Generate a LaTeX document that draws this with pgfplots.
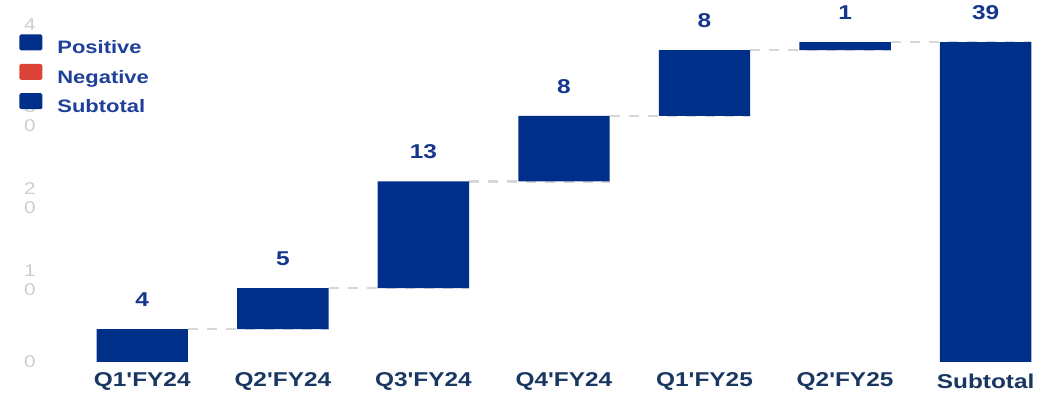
\documentclass[border=0pt]{standalone}
\usepackage{pgfplots}
\pgfplotsset{compat=1.18}
\usepackage{pgfplotstable}
\usepackage{fontspec}
\setmainfont{Liberation Sans}
\newfontfamily\wf{Liberation Sans}[FakeStretch=1.22]
\definecolor{barblue}{RGB}{0,47,138}
\definecolor{negred}{RGB}{221,68,56}
\definecolor{legblue}{RGB}{30,64,155}
\definecolor{lblblue}{RGB}{22,54,140}
\definecolor{tickblue}{RGB}{25,55,97}
\definecolor{tickgray}{RGB}{205,205,205}
\definecolor{conn}{RGB}{215,215,215}
\pgfplotstableread{
x base d
0 0 4
1 4 5
2 9 13
3 22 8
4 30 8
5 38 1
6 0 39
}\wfdata
\pgfplotstableread{
x top lbl
0 4 4
1 9 5
2 22 13
3 30 8
4 38 8
5 39 1
6 39 39
}\lbldata
\begin{document}
\begin{tikzpicture}
\useasboundingbox (0,0) rectangle (520.5pt,197.5pt);
\pgfplotsset{common/.style={at={(36pt,16.5pt)}, anchor=south west, scale only axis,
  width=484.5pt, height=180.5pt, xmin=-0.5, xmax=6.394, ymin=0, ymax=44,
  axis line style={draw=none}, major tick length=0pt, clip=false},
  connline/.style={draw=conn, line width=1.1pt, dash pattern=on 5pt off 4.5pt}}
\begin{axis}[common, xtick=\empty, ytick=\empty]
\addplot[connline] coordinates {(0.325,4)(1.325,4)};
\addplot[connline] coordinates {(1.325,9)(2.325,9)};
\addplot[connline] coordinates {(2.325,22)(3.325,22)};
\addplot[connline] coordinates {(3.325,30)(4.325,30)};
\addplot[connline] coordinates {(4.325,38)(5.325,38)};
\addplot[connline] coordinates {(5.325,39)(6.325,39)};
\addplot[draw=none, mark=none, nodes near coords, point meta=explicit symbolic,
  every node near coord/.style={anchor=south, inner sep=0pt, yshift=11.1pt, font=\wf\bfseries\fontsize{10}{12}\selectfont, text=lblblue}]
  table[x=x, y=top, meta=lbl]{\lbldata};
\end{axis}
\begin{axis}[common, ybar stacked, bar width=0.65,
  xtick={0,1,2,3,4,5,6},
  xticklabels={Q1'FY24,Q2'FY24,Q3'FY24,Q4'FY24,Q1'FY25,Q2'FY25,Subtotal},
  xticklabel style={anchor=center, yshift=-9.75pt, font=\wf\bfseries\fontsize{10}{12}\selectfont, text=tickblue, inner sep=0pt},
  ytick={0,10,20,30,40},
  yticklabels={0,{1\\0},{2\\0},{3\\0},{4\\0}},
  yticklabel style={anchor=center, xshift=-21pt, align=center, font=\wf\fontsize{8.5}{9.5}\selectfont, text=tickgray, inner sep=0pt},
  legend image code/.code={\fill[#1, draw=none, rounded corners=0.8pt] (0pt,-0.8pt) rectangle (11.5pt,7.2pt);},
  legend style={at={(axis description cs:-0.0547,0.9086)}, anchor=north west, draw=none, fill=none,
    inner sep=0pt, nodes={inner sep=0pt}, row sep=3.5pt,
    font=\wf\bfseries\fontsize{9}{11}\selectfont, text=legblue,
    /tikz/every odd column/.append style={column sep=7.5pt}},
  legend cell align=left]
\addplot[fill=none, draw=none, forget plot] table[x=x, y=base]{\wfdata};
\addplot[fill=barblue, draw=none, forget plot] table[x=x, y=d]{\wfdata};
\addlegendimage{fill=barblue}
\addlegendentry{Positive}
\addlegendimage{fill=negred}
\addlegendentry{Negative}
\addlegendimage{fill=barblue}
\addlegendentry{Subtotal}
\end{axis}
\end{tikzpicture}
\end{document}
